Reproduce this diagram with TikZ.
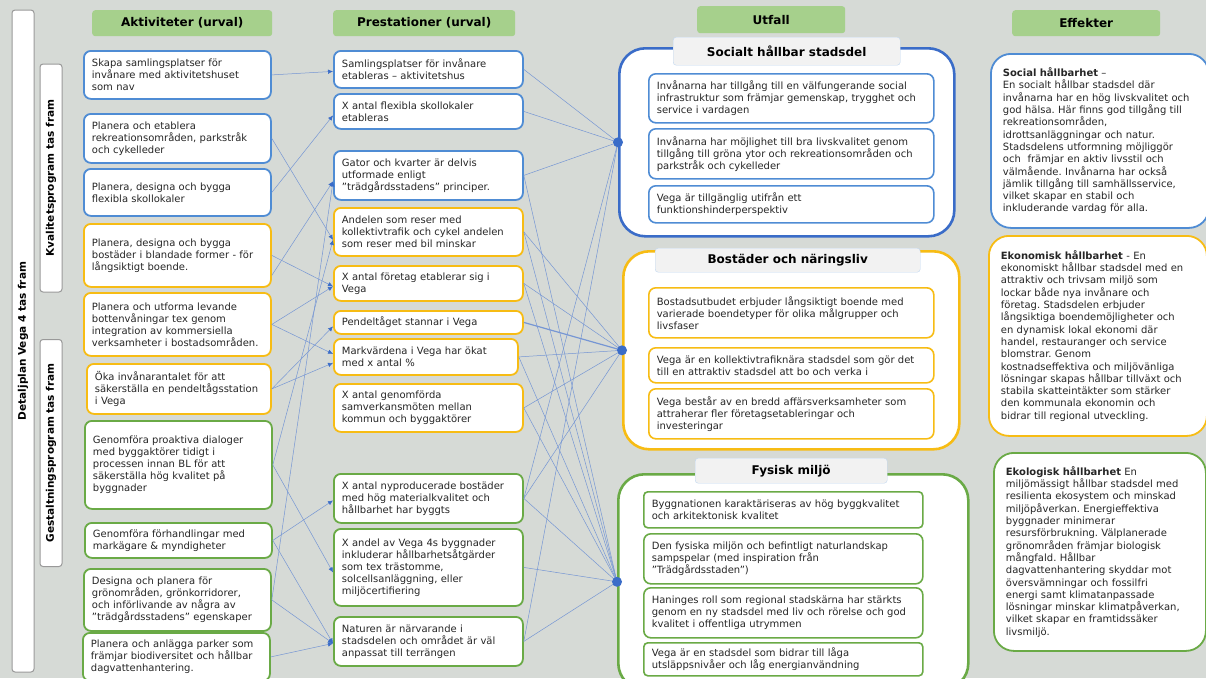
\documentclass[tikz,border=0pt]{standalone}
\usepackage{fontspec}
\setmainfont{DejaVu Sans}
\frenchspacing
\usetikzlibrary{arrows.meta}

\definecolor{bggray}{RGB}{214,218,214}
\definecolor{cblue}{RGB}{79,140,212}
\definecolor{cdblue}{RGB}{58,108,200}
\definecolor{cyel}{RGB}{247,188,20}
\definecolor{cgreen}{RGB}{106,170,70}
\definecolor{hgreen}{RGB}{166,208,140}
\definecolor{hgray}{RGB}{242,242,242}
\definecolor{lineblue}{RGB}{118,150,212}

\tikzset{
  box/.style={draw, fill=white, rounded corners=7pt, line width=1.8pt, anchor=north west,
    inner xsep=8pt, inner ysep=3pt, align=left, text=black!85, font=\fontsize{10}{12}\selectfont},
  akt/.style={box, text width=171pt},
  pre/.style={box, text width=173pt},
  utf/.style={box, text width=269pt, line width=1.6pt},
  eff/.style={box, inner xsep=12pt, rounded corners=20pt, font=\fontsize{10}{12.3}\selectfont},
  bl/.style={draw=cblue}, yl/.style={draw=cyel}, gr/.style={draw=cgreen},
  colhead/.style={fill=hgreen, rounded corners=3pt, anchor=north west, font=\fontsize{12}{14}\bfseries\selectfont},
  grphead/.style={draw=cblue!35, fill=hgray, rounded corners=3pt, anchor=north west, font=\fontsize{12}{14}\bfseries\selectfont},
  grp/.style={draw, fill=white, line width=2.6pt, rounded corners=26pt, anchor=north west},
  bar/.style={draw=black!40, fill=white, line width=1pt, rounded corners=3pt, rotate=90,
    font=\fontsize{10.5}{12}\bfseries\selectfont},
  conn/.style={draw=lineblue, line width=0.5pt, -{Latex[length=5pt,width=4.5pt,color=cdblue]}},
  link/.style={draw=lineblue, line width=0.5pt},
}

\begin{document}
\begin{tikzpicture}[x=1pt,y=-1pt]
\useasboundingbox (0,0) rectangle (1206,678);
\fill[bggray] (0,0) rectangle (1206,678);

% side bars
\node[bar, minimum width=662pt, minimum height=22pt] (bar0) at (23,341) {Detaljplan Vega 4 tas fram};
\node[bar, minimum width=228pt, minimum height=22pt] (bar1) at (51,178) {Kvalitetsprogram tas fram};
\node[bar, minimum width=227pt, minimum height=22pt] (bar2) at (51,453) {Gestaltningsprogram tas fram};

% column headers
\node[colhead, minimum width=180pt, minimum height=26pt] (hakt) at (92,10) {Aktiviteter (urval)};
\node[colhead, minimum width=182pt, minimum height=26pt] (hpre) at (333,10) {Prestationer (urval)};
\node[colhead, minimum width=148pt, minimum height=27pt] (hutf) at (697,6) {Utfall};
\node[colhead, minimum width=148pt, minimum height=26pt] (heff) at (1012,10) {Effekter};

% Aktiviteter
\node[akt, bl, minimum height=48pt] (a1) at (83,50) {Skapa samlingsplatser för\\invånare med aktivitetshuset\\som nav};
\node[akt, bl, minimum height=49pt] (a2) at (83,113) {Planera och etablera\\rekreationsområden, parkstråk\\och cykelleder};
\node[akt, bl, minimum height=47pt] (a3) at (83,168) {Planera, designa och bygga\\flexibla skollokaler\\[10pt]};
\node[akt, yl, minimum height=63pt] (a4) at (83,223) {Planera, designa och bygga\\bostäder i blandade former - för\\långsiktigt boende.};
\node[akt, yl, minimum height=63pt] (a5) at (83,292) {Planera och utforma levande\\bottenvåningar tex genom\\integration av kommersiella\\verksamheter i bostadsområden.};
\node[akt, yl, text width=168pt, minimum height=50pt] (a6) at (86,363) {Öka invånarantalet för att\\säkerställa en pendeltågsstation\\i Vega};
\node[akt, gr, minimum height=88pt] (a7) at (84,420) {Genomföra proaktiva dialoger\\med byggaktörer tidigt i\\processen innan BL för att\\säkerställa hög kvalitet på\\byggnader\\[12pt]};
\node[akt, gr, minimum height=35pt] (a8) at (84,522) {Genomföra förhandlingar med\\markägare \& myndigheter};
\node[akt, gr, minimum height=62pt] (a9) at (83,568) {Designa och planera för\\grönområden, grönkorridorer,\\och införlivande av några av\\"trädgårdsstadens" egenskaper};
\node[akt, gr, minimum height=48pt] (a10) at (82,632) {Planera och anlägga parker som\\främjar biodiversitet och hållbar\\dagvattenhantering.};

% Prestationer
\node[pre, bl, minimum height=37pt] (p1) at (333,50) {Samlingsplatser för invånare\\etableras – aktivitetshus};
\node[pre, bl, minimum height=35pt] (p2) at (333,93) {X antal flexibla skollokaler\\etableras};
\node[pre, bl, minimum height=49pt] (p3) at (333,150) {Gator och kvarter är delvis\\utformade enligt\\"trädgårdsstadens" principer.};
\node[pre, yl, minimum height=48pt] (p4) at (333,207) {Andelen som reser med\\kollektivtrafik och cykel andelen\\som reser med bil minskar};
\node[pre, yl, minimum height=35pt] (p5) at (333,265) {X antal företag etablerar sig i\\Vega};
\node[pre, yl, minimum height=23pt] (p6) at (333,310) {Pendeltåget stannar i Vega};
\node[pre, yl, text width=168pt, minimum height=36pt] (p7) at (333,338) {Markvärdena i Vega har ökat\\med x antal \%};
\node[pre, yl, minimum height=48pt] (p8) at (333,383) {X antal genomförda\\samverkansmöten mellan\\kommun och byggaktörer};
\node[pre, gr, minimum height=49pt] (p9) at (333,473) {X antal nyproducerade bostäder\\med hög materialkvalitet och\\hållbarhet har byggts};
\node[pre, gr, minimum height=77pt] (p10) at (333,528) {X andel av Vega 4s byggnader\\inkluderar hållbarhetsåtgärder\\som tex trästomme,\\solcellsanläggning, eller\\miljöcertifiering};
\node[pre, gr, minimum height=49pt] (p11) at (333,616) {Naturen är närvarande i\\stadsdelen och området är väl\\anpassat till terrängen};

% Utfall, groups
\node[grp, draw=cdblue, minimum width=335pt, minimum height=188pt] (grp1) at (618,47) {};
\node[grp, draw=cyel, minimum width=336pt, minimum height=198pt] (grp2) at (622,250) {};
\node[grp, draw=cgreen, minimum width=350pt, minimum height=215pt] (grp3) at (617,473) {};
\node[grphead, minimum width=227pt, minimum height=28pt] (hgrp1) at (673,37) {Socialt hållbar stadsdel};
\node[grphead, minimum width=265pt, minimum height=24pt] (hgrp2) at (655,248) {Bostäder och näringsliv};
\node[grphead, minimum width=192pt, minimum height=25pt] (hgrp3) at (695,458) {Fysisk miljö};

\node[utf, bl, minimum height=49pt] (u1) at (648,73) {Invånarna har tillgång till en välfungerande social\\infrastruktur som främjar gemenskap, trygghet och\\service i vardagen};
\node[utf, bl, minimum height=50pt] (u2) at (648,128) {Invånarna har möjlighet till bra livskvalitet genom\\tillgång till gröna ytor och rekreationsområden och\\parkstråk och cykelleder};
\node[utf, bl, minimum height=37pt] (u3) at (648,185) {Vega är tillgänglig utifrån ett\\funktionshinderperspektiv};
\node[utf, yl, minimum height=50pt] (u4) at (648,287) {Bostadsutbudet erbjuder långsiktigt boende med\\varierade boendetyper för olika målgrupper och\\livsfaser};
\node[utf, yl, minimum height=35pt] (u5) at (648,347) {Vega är en kollektivtrafiknära stadsdel som gör det\\till en attraktiv stadsdel att bo och verka i};
\node[utf, yl, minimum height=50pt] (u6) at (648,388) {Vega består av en bredd affärsverksamheter som\\attraherar fler företagsetableringar och\\investeringar};
\node[utf, gr, rounded corners=4pt, text width=263pt, minimum height=36pt] (u7) at (643,491) {Byggnationen karaktäriseras av hög byggkvalitet\\och arkitektonisk kvalitet};
\node[utf, gr, rounded corners=7pt, text width=263pt, minimum height=50pt] (u8) at (643,533) {Den fysiska miljön och befintligt naturlandskap\\sampspelar (med inspiration från\\"Trädgårdsstaden")};
\node[utf, gr, rounded corners=7pt, text width=263pt, minimum height=50pt] (u9) at (643,587) {Haninges roll som regional stadskärna har stärkts\\genom en ny stadsdel med liv och rörelse och god\\kvalitet i offentliga utrymmen};
\node[utf, gr, rounded corners=4pt, text width=263pt, minimum height=33pt] (u10) at (643,642) {Vega är en stadsdel som bidrar till låga\\utsläppsnivåer och låg energianvändning};

% Effekter
\node[eff, bl, text width=194pt, minimum height=174pt] (e1) at (990,53) {\textbf{Social hållbarhet} –\\En socialt hållbar stadsdel där\\invånarna har en hög livskvalitet och\\god hälsa. Här finns god tillgång till\\rekreationsområden,\\idrottsanläggningar och natur.\\Stadsdelens utformning möjliggör\\och\ \ främjar en aktiv livsstil och\\välmående. Invånarna har också\\jämlik tillgång till samhällsservice,\\vilket skapar en stabil och\\inkluderande vardag för alla.};
\node[eff, yl, text width=194pt, minimum height=200pt] (e2) at (988,235) {\textbf{Ekonomisk hållbarhet} - En\\ekonomiskt hållbar stadsdel med en\\attraktiv och trivsam miljö som\\lockar både nya invånare och\\företag. Stadsdelen erbjuder\\långsiktiga boendemöjligheter och\\en dynamisk lokal ekonomi där\\handel, restauranger och service\\blomstrar. Genom\\kostnadseffektiva och miljövänliga\\lösningar skapas hållbar tillväxt och\\stabila skatteintäkter som stärker\\den kommunala ekonomin och\\bidrar till regional utveckling.};
\node[eff, gr, text width=188pt, minimum height=198pt] (e3) at (993,452) {\textbf{Ekologisk hållbarhet} En\\miljömässigt hållbar stadsdel med\\resilienta ekosystem och minskad\\miljöpåverkan. Energieffektiva\\byggnader minimerar\\resursförbrukning. Välplanerade\\grönområden främjar biologisk\\mångfald. Hållbar\\dagvattenhantering skyddar mot\\översvämningar och fossilfri\\energi samt klimatanpassade\\lösningar minskar klimatpåverkan,\\vilket skapar en framtidssäker\\livsmiljö.};

% Aktiviteter -> Prestationer
\draw[conn] (a1.east) -- ([yshift=-2pt]p1.west);
\draw[conn] (a3.east) -- ([yshift=-4pt]p2.west);
\draw[conn] ([yshift=-20pt]a4.east) -- ([yshift=-6pt]p3.west);
\draw[conn] (a9.east) -- ([yshift=-6pt]p3.west);
\draw[conn] (a2.east) -- ([yshift=-8pt]p4.west);
\draw[conn] (a7.east) -- ([yshift=-8pt]p4.west);
\draw[conn] (a4.east) -- ([yshift=-3pt]p5.west);
\draw[conn] (a5.east) -- ([yshift=-3pt]p5.west);
\draw[conn] (a6.east) -- ([yshift=-4pt]p6.west);
\draw[conn] (a5.east) -- ([yshift=3pt]p7.west);
\draw[conn] (a6.east) -- ([yshift=-6pt]p7.west);
\draw[conn] (a8.east) -- ([yshift=-2pt]p9.west);
\draw[conn] (a7.east) -- ([yshift=-5pt]p10.west);
\draw[conn] (a8.east) -- ([yshift=-2pt]p11.west);
\draw[conn] (a9.east) -- ([yshift=-2pt]p11.west);
\draw[conn] (a10.east) -- ([yshift=-2pt]p11.west);

% Prestationer -> Utfall
\draw[link] (p1.east) -- (grp1.west);
\draw[link] (p2.east) -- (grp1.west);
\draw[link] (p3.east) -- (grp1.west);
\draw[link] (p9.east) -- (grp1.west);
\draw[link] (p11.east) -- (grp1.west);
\draw[link] (p4.east) -- (grp2.west);
\draw[link] (p5.east) -- (grp2.west);
\draw[link, line width=1.2pt] (p6.east) -- (grp2.west);
\draw[link] (p7.east) -- (grp2.west);
\draw[link] (p8.east) -- (grp2.west);
\draw[link] (p9.east) -- (grp2.west);
\draw[link] (p3.east) -- (grp3.west);
\draw[link] (p4.east) -- (grp3.west);
\draw[link] (p5.east) -- (grp3.west);
\draw[link] (p7.east) -- (grp3.west);
\draw[link] (p8.east) -- (grp3.west);
\draw[link] (p9.east) -- (grp3.west);
\draw[link] (p10.east) -- (grp3.west);
\draw[link] (p11.east) -- (grp3.west);

\fill[cdblue] (grp1.west) circle (5pt);
\fill[cdblue] (grp2.west) circle (5pt);
\fill[cdblue] (grp3.west) circle (5pt);
\end{tikzpicture}
\end{document}
